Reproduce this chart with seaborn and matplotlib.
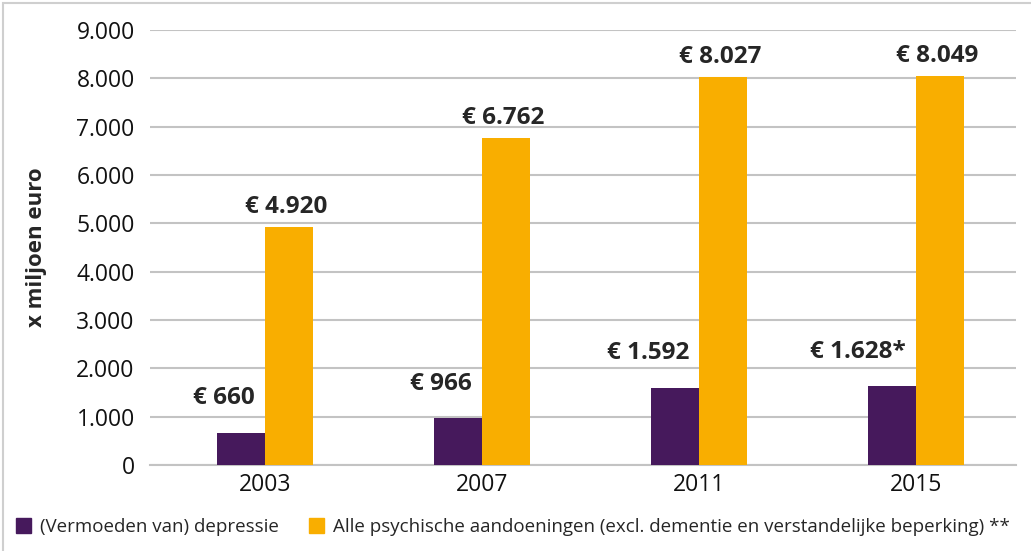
import seaborn as sns
import matplotlib.pyplot as plt
import pandas as pd
from matplotlib.patches import Rectangle

# Zorgkosten (x miljoen euro)
jaren = ["2003", "2007", "2011", "2015"]
depressie = [660, 966, 1592, 1628]
psychisch = [4920, 6762, 8027, 8049]
labels_depressie = ["€ 660", "€ 966", "€ 1.592", "€ 1.628*"]
labels_psychisch = ["€ 4.920", "€ 6.762", "€ 8.027", "€ 8.049"]
reeksen = ["(Vermoeden van) depressie",
           "Alle psychische aandoeningen (excl. dementie en verstandelijke beperking) **"]
y_ticks = [0, 1000, 2000, 3000, 4000, 5000, 6000, 7000, 8000, 9000]
y_ticklabels = ["0", "1.000", "2.000", "3.000", "4.000", "5.000",
                "6.000", "7.000", "8.000", "9.000"]

paars = "#46195c"
oranje = "#f9ae00"
grijs = "#c3c3c3"

df = pd.DataFrame({
    "jaar": jaren * 2,
    "kosten": depressie + psychisch,
    "reeks": [reeksen[0]] * 4 + [reeksen[1]] * 4,
})

sns.set_style("white")
plt.rcParams["font.family"] = ["Open Sans", "DejaVu Sans"]

fig = plt.figure(figsize=(10.31, 5.51), dpi=100)
ax = fig.add_axes([150 / 1031, 86 / 551, 866 / 1031, 435 / 551])

sns.barplot(data=df, x="jaar", y="kosten", hue="reeks",
            palette=[paars, oranje], width=0.44, gap=0, saturation=1,
            linewidth=0, ax=ax, legend=False, zorder=3)

ax.set_ylim(0, 9000)
ax.set_xlim(-0.53, 3.461)
ax.set_yticks(y_ticks)
ax.set_yticklabels(y_ticklabels)
ax.yaxis.grid(True, color=grijs, linewidth=1.5, zorder=0)
ax.set_axisbelow(True)
for s in ["top", "right", "left"]:
    ax.spines[s].set_visible(False)
ax.spines["bottom"].set_color(grijs)
ax.spines["bottom"].set_linewidth(1.5)
ax.tick_params(axis="both", length=0, labelsize=16.5, colors="#111111")
ax.tick_params(axis="y", pad=11)
ax.tick_params(axis="x", pad=6)
ax.set_xlabel("")
ax.set_ylabel("x miljoen euro", fontsize=16, fontweight="bold")
ax.yaxis.set_label_coords(-0.119, 0.5)

# waardelabels
for bar, lab in zip(ax.containers[0], labels_depressie):
    x = bar.get_x() + bar.get_width() / 2
    ax.annotate(lab, (x, bar.get_height()), xytext=(10, 25),
                textcoords="offset points", ha="right", va="center",
                fontsize=17.5, fontweight="bold")
for bar, lab in zip(ax.containers[1], labels_psychisch):
    x = bar.get_x() + bar.get_width() / 2
    ax.annotate(lab, (x, bar.get_height()), xytext=(-2, 14.5),
                textcoords="offset points", ha="center", va="center",
                fontsize=17.5, fontweight="bold")

# legenda
handles = [Rectangle((0, 0), 1, 1, color=paars), Rectangle((0, 0), 1, 1, color=oranje)]
fig.legend(handles, reeksen, loc="center left", bbox_to_anchor=(0.008, 24 / 551),
           ncol=2, frameon=False, fontsize=13.5, handlelength=0.8, handleheight=0.8,
           handletextpad=0.5, columnspacing=1.6, borderaxespad=0)

# kader
fig.patches.append(Rectangle((3 / 1031, -0.05), 1.1, 0.05 + 548 / 551, transform=fig.transFigure,
                             fill=False, edgecolor="#cfcfcf", linewidth=1.5))

fig.savefig("out.png", dpi=100)
